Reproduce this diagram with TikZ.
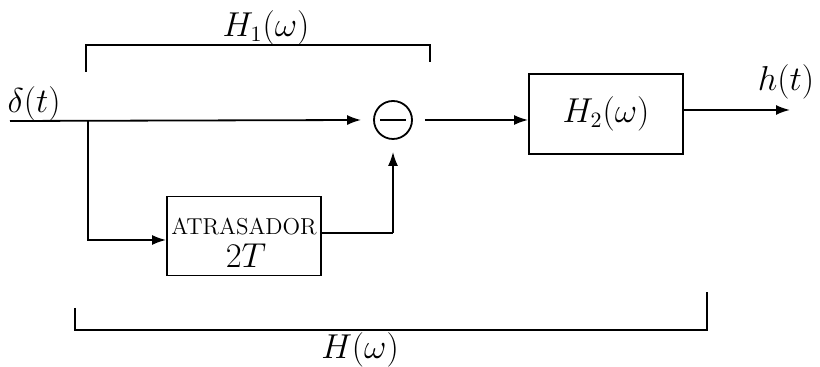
\documentclass[tikz,border=0pt]{standalone}
\usetikzlibrary{arrows.meta,calc}
\begin{document}
\begin{tikzpicture}[x=0.5pt,y=-0.5pt,
  line width=0.9pt,
  arr/.style={-{Latex[length=7pt,width=5pt]}},
  blk/.style={draw,rectangle,inner sep=0pt},
  lbl/.style={font=\fontsize{16}{18}\selectfont},
  sumnode/.style={draw,circle,minimum size=19pt,inner sep=0pt}]
\useasboundingbox (0,0) rectangle (820,367);
% nodes
\coordinate (in) at (10,121);
\coordinate (br) at (88,121);
\node[sumnode] (c) at (393,120) {};
\draw[line width=1pt] ($(c.center)+(-13,0)$) -- ($(c.center)+(13,0)$);
\node[blk,minimum width=77pt,minimum height=40pt,lbl] (h2) at (606,114) {$H_2(\omega)$};
\coordinate (out) at (790,110);
\node[blk,minimum width=77pt,minimum height=39.5pt] (d) at (244,236) {};
\node (dt) at (244,227) {\fontsize{11.5}{12}\selectfont ATRASADOR};
\node (dn) at (246,256) {\fontsize{19}{20}\selectfont$2T$};
\coordinate (bl) at (88,240);
% labels
\node[lbl] (delta) at (34,104) {$\delta(t)$};
\node[lbl] (ht) at (786,82) {$h(t)$};
\node[lbl] (h1) at (266,28) {$H_1(\omega)$};
\node[lbl] (hw) at (360,350) {$H(\omega)$};
% bracket corners
\coordinate (a1) at (86,72);
\coordinate (a2) at (86,45);
\coordinate (a3) at (430,45);
\coordinate (a4) at (430,62);
\coordinate (b1) at (75,308);
\coordinate (b2) at (75,330);
\coordinate (b3) at (707,330);
\coordinate (b4) at (707,292);
% connectors
\draw[arr] (in) -- ($(c.west)+(-12,0)$);
\draw[arr] (br) -- (bl) -- (d.west |- bl);
\draw (d.east |- 0,233) -- (c.south |- 0,233) coordinate (tr);
\draw[arr] (tr) -- ($(c.south)+(0,12)$);
\draw[arr] ($(c.east)+(12,0)$) -- (c.east -| h2.west);
\draw[arr] (h2.east |- out) -- (out);
\draw (a1) -- (a2) -- (a3) -- (a4);
\draw (b1) -- (b2) -- (b3) -- (b4);
\end{tikzpicture}
\end{document}
